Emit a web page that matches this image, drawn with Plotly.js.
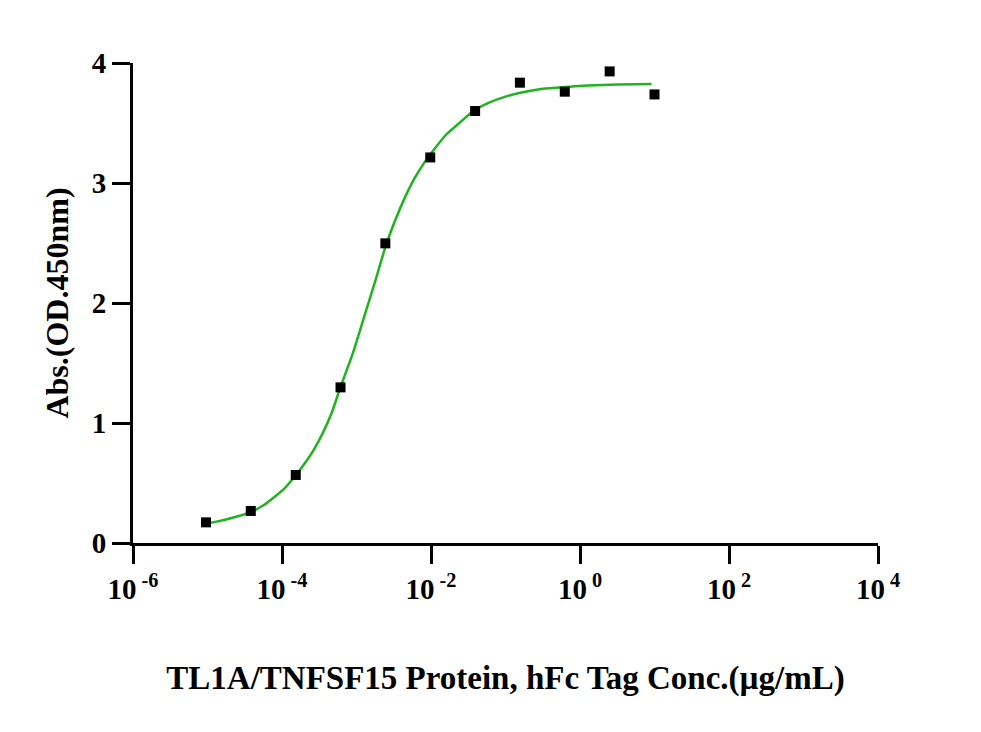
<!DOCTYPE html>
<html>
<head>
<meta charset="utf-8">
<script src="https://cdn.plot.ly/plotly-3.0.1.min.js"></script>
<style>
  html, body { margin: 0; padding: 0; background: #ffffff; }
  #chart { width: 981px; height: 732px; }
</style>
</head>
<body>
<div id="chart"></div>
<script>
// Measured points (concentration in µg/mL, absorbance at 450 nm)
var concentration = [9.54e-6, 3.81e-5, 1.53e-4, 6.1e-4, 2.44e-3, 9.77e-3, 0.0391, 0.156, 0.625, 2.5, 10];
var absorbance    = [0.172, 0.267, 0.567, 1.297, 2.497, 3.213, 3.600, 3.836, 3.761, 3.930, 3.738];

// Fitted curve
var curveX = [9.33e-6, 1.32e-5, 1.82e-5, 2.63e-5, 3.80e-5, 5.50e-5, 7.76e-5, 1.10e-4, 1.51e-4, 2.00e-4,
              2.63e-4, 3.55e-4, 4.68e-4, 6.03e-4, 8.91e-4, 1.26e-3, 1.78e-3, 2.45e-3, 3.31e-3, 4.47e-3,
              6.03e-3, 8.13e-3, 1.10e-2, 1.58e-2, 2.40e-2, 3.80e-2, 6.03e-2, 0.100, 0.158, 0.316,
              0.631, 1.26, 3.16, 9.12];
var curveY = [0.158, 0.178, 0.198, 0.225, 0.258, 0.310, 0.380, 0.460, 0.560, 0.660,
              0.770, 0.920, 1.090, 1.290, 1.580, 1.880, 2.180, 2.470, 2.690, 2.880,
              3.040, 3.170, 3.280, 3.400, 3.500, 3.605, 3.670, 3.720, 3.752, 3.785,
              3.800, 3.812, 3.820, 3.825];

// Axis ticks
var xTickVals = [1e-6, 1e-4, 1e-2, 1, 1e2, 1e4];
var xTickText = ['10<sup> -6</sup>', '10<sup> -4</sup>', '10<sup> -2</sup>', '10<sup> 0</sup>', '10<sup> 2</sup>', '10<sup> 4</sup>'];
var yTickVals = [0, 1, 2, 3, 4];

var xTitle = 'TL1A/TNFSF15 Protein, hFc Tag Conc.(µg/mL)';
var yTitle = 'Abs.(OD.450nm)';

var fontFamily = '"Liberation Serif", "Times New Roman", serif';

var traces = [
  {
    x: curveX, y: curveY, type: 'scatter', mode: 'lines',
    line: { color: '#1fb41f', width: 2.5, shape: 'spline', smoothing: 0.6 },
    hoverinfo: 'skip', showlegend: false
  },
  {
    x: concentration, y: absorbance, type: 'scatter', mode: 'markers',
    marker: { symbol: 'square', size: 10, color: '#000000' },
    showlegend: false
  }
];

var layout = {
  width: 981, height: 732,
  paper_bgcolor: '#ffffff', plot_bgcolor: '#ffffff',
  margin: { l: 132.5, r: 103, t: 62.7, b: 188.7, pad: 0 },
  font: { family: fontFamily, color: '#000000' },
  showlegend: false,
  xaxis: {
    type: 'log', range: [-6, 4],
    tickmode: 'array', tickvals: xTickVals, ticktext: xTickText,
    ticks: 'outside', ticklen: 18, tickwidth: 3, tickcolor: '#000000',
    showline: true, linecolor: '#000000', linewidth: 3,
    showgrid: false, zeroline: false,
    tickfont: { family: fontFamily, size: 29, color: '#000000', weight: 'bold' },
    title: { text: '<b>' + xTitle + '</b>', font: { family: fontFamily, size: 33, color: '#000000' }, standoff: 63 },
    automargin: false
  },
  yaxis: {
    range: [0, 4],
    tickmode: 'array', tickvals: yTickVals,
    ticks: 'outside', ticklen: 18, tickwidth: 3, tickcolor: '#000000',
    showline: true, linecolor: '#000000', linewidth: 3,
    showgrid: false, zeroline: false,
    tickfont: { family: fontFamily, size: 29, color: '#000000', weight: 'bold' },
    title: { text: '<b>' + yTitle + '</b>', font: { family: fontFamily, size: 32, color: '#000000' }, standoff: 14 },
    automargin: false
  }
};

Plotly.newPlot('chart', traces, layout, { displayModeBar: false, staticPlot: true });
</script>
</body>
</html>
